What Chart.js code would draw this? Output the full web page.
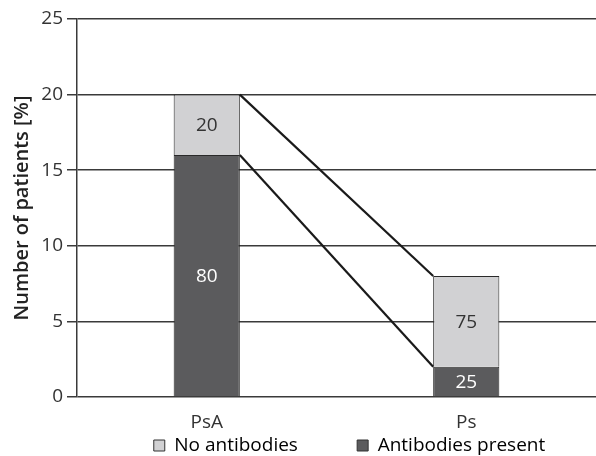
<!DOCTYPE html>
<html>
<head>
<meta charset="utf-8">
<script src="https://cdn.jsdelivr.net/npm/chart.js@4/dist/chart.umd.min.js"></script>
<style>
  html, body { margin: 0; padding: 0; background: #fff; }
  #wrap { width: 596px; height: 456px; }
</style>
</head>
<body>
<div id="wrap"><canvas id="chart" width="596" height="456"></canvas></div>
<script>
const categories = ['PsA', 'Ps'];
// share of patients in each group (% of all patients)
const withAntibodies = [16, 2];
const noAntibodies = [4, 6];
// labels written inside the segments (% within group)
const withLabels = ['80', '25'];
const noLabels = ['20', '75'];
const yTicks = [0, 5, 10, 15, 20, 25];

const font = '"Open Sans", "DejaVu Sans", sans-serif';

const segmentLabels = {
  id: 'segmentLabels',
  afterDatasetsDraw(chart) {
    const ctx = chart.ctx;
    ctx.save();
    ctx.font = '19px ' + font;
    ctx.textAlign = 'center';
    ctx.textBaseline = 'middle';
    const sets = [
      { idx: 0, labels: withLabels, color: '#ffffff' },
      { idx: 1, labels: noLabels, color: '#333333' }
    ];
    sets.forEach(s => {
      chart.getDatasetMeta(s.idx).data.forEach((bar, i) => {
        const p = bar.getProps(['x', 'y', 'base']);
        ctx.fillStyle = s.color;
        ctx.fillText(s.labels[i], p.x, (p.y + p.base) / 2 + 1);
      });
    });
    ctx.restore();
  }
};

const connectors = {
  id: 'connectors',
  afterDatasetsDraw(chart) {
    const ctx = chart.ctx;
    ctx.save();
    ctx.strokeStyle = '#1a1a1a';
    ctx.lineWidth = 2.2;
    [0, 1].forEach(d => {
      const bars = chart.getDatasetMeta(d).data;
      const a = bars[0].getProps(['x', 'y', 'width']);
      const b = bars[1].getProps(['x', 'y', 'width']);
      ctx.beginPath();
      ctx.moveTo(a.x + a.width / 2, a.y);
      ctx.lineTo(b.x - b.width / 2, b.y);
      ctx.stroke();
    });
    ctx.restore();
  }
};

// nudge the legend row a little right and down, like the original
const legendShift = {
  id: 'legendShift',
  afterLayout(chart) {
    const lg = chart.legend;
    lg.left += 13;
    lg.right += 13;
    lg.top += 4;
    lg.bottom += 4;
  }
};

new Chart(document.getElementById('chart'), {
  type: 'bar',
  data: {
    labels: categories,
    datasets: [{
      label: 'Antibodies present',
      data: withAntibodies,
      backgroundColor: '#5b5b5d',
      borderColor: '#2a2a2a',
      borderWidth: 1,
      barPercentage: 0.255,
      categoryPercentage: 1
    }, {
      label: 'No antibodies',
      data: noAntibodies,
      backgroundColor: '#d1d1d3',
      borderColor: '#2a2a2a',
      borderWidth: 1,
      barPercentage: 0.255,
      categoryPercentage: 1
    }]
  },
  options: {
    responsive: false,
    animation: false,
    layout: { padding: { top: 19, right: 0, left: 0, bottom: 0 } },
    plugins: {
      legend: {
        position: 'bottom',
        reverse: true,
        fullSize: false,
        maxHeight: 24,
        labels: {
          font: { family: font, size: 19, lineHeight: 1 },
          color: '#222',
          boxWidth: 11,
          boxHeight: 11,
          padding: 0,
          generateLabels(chart) {
            return chart.data.datasets.map((ds, i) => ({
              text: i === 1 ? ds.label + '            ' : ds.label,
              fillStyle: ds.backgroundColor,
              strokeStyle: '#333',
              lineWidth: 1,
              datasetIndex: i
            }));
          }
        }
      },
      tooltip: { enabled: false }
    },
    scales: {
      x: {
        stacked: true,
        grid: { display: false },
        border: { display: false },
        afterFit(scale) { scale.height = 35; },
        ticks: { font: { family: font, size: 19 }, color: '#333', padding: 6 }
      },
      y: {
        stacked: true,
        min: 0,
        max: 25,
        afterBuildTicks(scale) { scale.ticks = yTicks.map(v => ({ value: v })); },
        afterFit(scale) { scale.width = 77; },
        grid: { color: '#3a3a3a', lineWidth: 1.5, tickLength: 10 },
        border: { color: '#3a3a3a', width: 1.5 },
        ticks: { font: { family: font, size: 19 }, color: '#333', padding: 4 },
        title: {
          display: true,
          text: 'Number of patients [%]',
          font: { family: font, size: 20, weight: '600' },
          color: '#222',
          padding: { top: 10, bottom: 0 }
        }
      }
    }
  },
  plugins: [segmentLabels, connectors, legendShift]
});
</script>
</body>
</html>
